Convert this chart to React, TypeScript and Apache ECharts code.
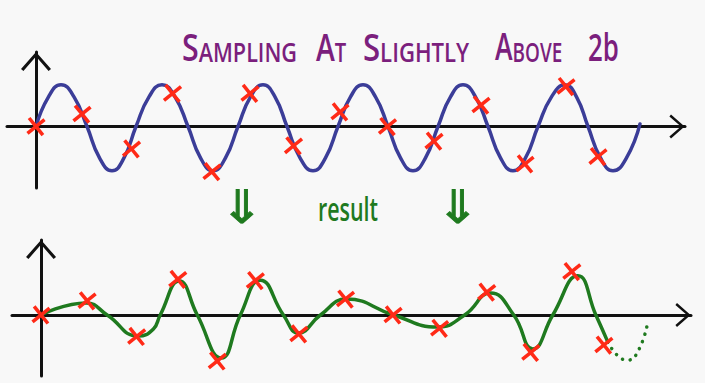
import React, { useEffect, useRef } from 'react';
import * as echarts from 'echarts';

// ---- Top panel: the continuous signal (points: crossings, extremes, mid-slopes)
const signalX = [0, 12.5, 25, 38, 51, 63.5, 76, 88, 100, 113, 126, 139, 152, 164.5, 177, 189.5, 202, 214.5, 227, 239, 251, 264, 277, 289.5, 302, 314.5, 327, 339.5, 352, 364.5, 377, 389.5, 402, 414.5, 427, 439.5, 452, 464.5, 477, 489.5, 502, 515.5, 529, 540.5, 552, 564.5, 577, 590.5, 604];
const signalY = [0, 0.69, 0.97, 0.69, 0, -0.73, -1.03, -0.73, 0, 0.69, 0.97, 0.69, 0, -0.73, -1.03, -0.73, 0, 0.69, 0.97, 0.69, 0, -0.73, -1.03, -0.73, 0, 0.69, 0.97, 0.69, 0, -0.73, -1.03, -0.73, 0, 0.69, 0.97, 0.69, 0, -0.73, -1.03, -0.73, 0, 0.69, 0.97, 0.69, 0, -0.73, -1.03, -0.73, 0.06];

// ---- Sample instants (same positions in both panels)
const sampleX = [0, 46, 95.5, 136.5, 176, 214, 257.5, 304, 351.5, 398, 445, 489, 530, 562];
const sampleTop = [0, 0.29, -0.52, 0.77, -1.05, 0.77, -0.45, 0.34, 0, -0.34, 0.5, -0.87, 0.93, -0.7];
const sampleBottom = [0, 0.33, -0.5, 0.83, -1.07, 0.8, -0.44, 0.37, 0, -0.31, 0.53, -0.87, 1.01, -0.7];

// ---- Bottom panel: the reconstructed result curve
const resultX = [0, 45, 66, 97, 112, 119, 138, 156, 180, 199, 219, 242, 257, 279, 305, 352, 396, 423, 449, 472, 491, 511, 536, 554, 566];
const resultY = [0, 0.28, 0, -0.49, -0.33, 0, 0.79, 0, -1.0, 0, 0.81, 0, -0.42, 0, 0.37, 0, -0.28, 0, 0.51, 0, -0.79, 0, 0.91, 0, -0.63];
const tailX = [566, 576, 586, 597, 606];
const tailY = [-0.63, -0.95, -1.05, -0.8, -0.15];

// ---- Texts
const titleWords = [
  ['S', 'AMPLING'],
  ['A', 'T'],
  ['S', 'LIGHTLY'],
  ['A', 'BOVE'],
  ['2b', ''],
];
const middleLabel = 'result';
const arrowGlyph = '\u21D3';

const BLUE = '#3b3d98';
const GREEN = '#1f7a1f';
const RED = '#ff2a17';
const PURPLE = '#7b1f7d';
const INK = '#111111';

const CHEVRON = 'path://M0,17 L15,0 L30,17 L27.6,19 L15,4.6 L2.4,19 Z';
const CROSS = 'path://M2.5,0 L9,6.5 L15.5,0 L18,2.5 L11.5,9 L18,15.5 L15.5,18 L9,11.5 L2.5,18 L0,15.5 L6.5,9 L0,2.5 Z';

const pts = (xs: number[], ys: number[]) => xs.map((x, i) => [x, ys[i]]);

function xAxisCfg(gridIndex: number) {
  return {
    type: 'value',
    gridIndex,
    min: -29,
    max: 649,
    axisLine: {
      show: true,
      onZero: true,
      symbol: ['none', CHEVRON],
      symbolSize: [24, 16],
      symbolOffset: [0, -8],
      lineStyle: { color: INK, width: 3 },
    },
    axisTick: { show: false },
    axisLabel: { show: false },
    splitLine: { show: false },
  };
}

function yAxisCfg(gridIndex: number, min: number, max: number) {
  return {
    type: 'value',
    gridIndex,
    min,
    max,
    axisLine: {
      show: true,
      onZero: true,
      symbol: ['none', CHEVRON],
      symbolSize: [30, 19],
      symbolOffset: [0, -9.5],
      lineStyle: { color: INK, width: 3 },
    },
    axisTick: { show: false },
    axisLabel: { show: false },
    splitLine: { show: false },
  };
}

const titleX = [182, 316, 363, 495, 588];
const titleScale = [0.8, 0.75, 0.82, 0.7, 0.68];

export default function App() {
  const ref = useRef<HTMLDivElement>(null);
  useEffect(() => {
    if (!ref.current) return;
    const chart = echarts.init(ref.current, null, { renderer: 'svg' });
    const font = '"Open Sans", Lato, sans-serif';
    const rich = {
      b: { fontSize: 38, lineHeight: 38, verticalAlign: 'bottom', fontFamily: font, fontWeight: 600, fill: PURPLE },
      s: { fontSize: 27, lineHeight: 32, verticalAlign: 'bottom', fontFamily: font, fontWeight: 600, fill: PURPLE },
    };
    const titleEls = titleWords.map((w, i) => ({
      type: 'text',
      x: titleX[i],
      y: 65,
      scaleX: titleScale[i],
      style: {
        text: `{b|${w[0]}}` + (w[1] ? `{s|${w[1]}}` : ''),
        rich,
        fill: PURPLE,
        align: 'left',
        verticalAlign: 'bottom',
      },
    }));
    const arrowStyle = {
      text: arrowGlyph, fill: GREEN, fontSize: 46, fontFamily: '"DejaVu Sans"',
      align: 'center', verticalAlign: 'middle', stroke: GREEN, lineWidth: 0.8,
    };
    chart.setOption({
      animation: false,
      backgroundColor: '#f8f8f8',
      grid: [
        { left: 7, right: 20, top: 52, height: 136, outerBoundsMode: 'none' },
        { left: 12, right: 14, top: 240, height: 136, outerBoundsMode: 'none' },
      ],
      xAxis: [xAxisCfg(0), xAxisCfg(1)],
      yAxis: [yAxisCfg(0, -1.43, 1.733), yAxisCfg(1, -1.419, 1.744)],
      series: [
        {
          type: 'line', xAxisIndex: 0, yAxisIndex: 0,
          data: pts(signalX, signalY), smooth: 0.5, showSymbol: false,
          lineStyle: { color: BLUE, width: 3.5, cap: 'round' }, z: 3,
        },
        {
          type: 'scatter', xAxisIndex: 0, yAxisIndex: 0,
          data: pts(sampleX, sampleTop), symbol: CROSS, symbolSize: 18, symbolRotate: -6,
          itemStyle: { color: RED, opacity: 1 }, z: 5,
        },
        {
          type: 'line', xAxisIndex: 1, yAxisIndex: 1,
          data: pts(resultX, resultY), smooth: 0.5, showSymbol: false,
          lineStyle: { color: GREEN, width: 3.5, cap: 'round' }, z: 3,
        },
        {
          type: 'line', xAxisIndex: 1, yAxisIndex: 1,
          data: pts(tailX, tailY), smooth: 0.5, showSymbol: false,
          lineStyle: { color: GREEN, width: 3.5, cap: 'round', type: [0.1, 7.5] }, z: 3,
        },
        {
          type: 'scatter', xAxisIndex: 1, yAxisIndex: 1,
          data: pts(sampleX, sampleBottom), symbol: CROSS, symbolSize: 18, symbolRotate: -6,
          itemStyle: { color: RED, opacity: 1 }, z: 5,
        },
      ],
      graphic: [
        ...titleEls,
        {
          type: 'text', x: 348, y: 209, scaleX: 0.67,
          style: { text: middleLabel, fill: GREEN, fontSize: 32, fontWeight: 600, fontFamily: font, align: 'center', verticalAlign: 'middle' },
        },
        { type: 'text', x: 242, y: 207, scaleX: 1.15, style: arrowStyle },
        { type: 'text', x: 458, y: 207, scaleX: 1.15, style: arrowStyle },
      ],
    });
    return () => chart.dispose();
  }, []);
  return (
    <div
      ref={ref}
      style={{ position: 'fixed', left: 0, top: 0, width: 705, height: 383, background: '#f8f8f8' }}
    />
  );
}
